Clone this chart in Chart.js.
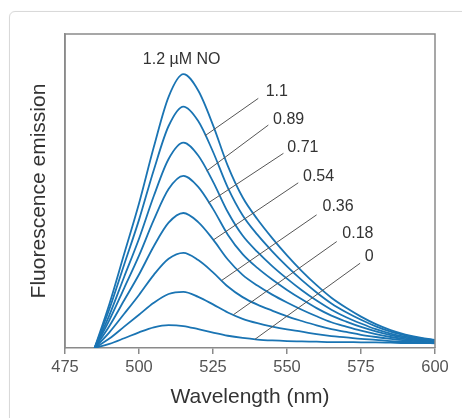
<!DOCTYPE html>
<html>
<head>
<meta charset="utf-8">
<script src="https://cdn.jsdelivr.net/npm/chart.js@4"></script>
<style>
  html, body { margin: 0; padding: 0; background: #fff; overflow: hidden; }
  #card { position: absolute; left: 9px; top: 11px; width: 520px; height: 480px;
          border: 1px solid #d9d9d9; border-radius: 6px; box-shadow: 0 0 1px rgba(0,0,0,0.08); }
  #chart { position: absolute; left: 0; top: 0; }
</style>
</head>
<body>
<div id="card"></div>
<canvas id="chart" width="462" height="418"></canvas>
<script>
// wavelength (nm) and emission for each NO concentration (µM)
const wavelengths = [485, 490, 495, 500, 505, 510, 515, 520, 525, 530, 535, 540, 545, 550, 555, 560, 565, 570, 575, 580, 585, 590, 595, 600];
const no120 = [0, 14.0, 30.0, 46.0, 64.0, 80.0, 87.2, 82.0, 71.0, 58.0, 48.0, 41.0, 35.0, 29.5, 24.5, 20.0, 16.0, 12.8, 10.0, 7.6, 5.7, 4.3, 3.3, 2.6];
const no110 = [0, 12.4, 26.6, 40.8, 56.7, 70.7, 76.9, 72.3, 62.5, 51.1, 42.3, 36.1, 30.8, 26.0, 21.6, 17.7, 14.2, 11.4, 9.0, 6.9, 5.2, 4.0, 3.1, 2.5];
const no089 = [0, 10.5, 22.7, 34.8, 48.4, 60.2, 65.4, 61.3, 53.0, 43.3, 35.8, 30.6, 26.1, 22.1, 18.4, 15.1, 12.2, 9.8, 7.8, 6.0, 4.6, 3.6, 2.8, 2.3];
const no071 = [0, 8.9, 19.1, 29.4, 40.8, 50.6, 54.8, 51.3, 44.3, 36.1, 29.9, 25.5, 21.8, 18.5, 15.5, 12.7, 10.3, 8.4, 6.7, 5.3, 4.1, 3.2, 2.6, 2.2];
const no054 = [0, 7.0, 15.2, 23.4, 32.4, 39.9, 43.0, 40.1, 34.6, 28.2, 23.3, 19.9, 17.0, 14.5, 12.2, 10.1, 8.2, 6.8, 5.5, 4.4, 3.5, 2.8, 2.4, 2.0];
const no036 = [0, 5.0, 10.9, 16.9, 23.3, 28.4, 30.3, 28.0, 24.1, 19.6, 16.2, 13.8, 11.9, 10.1, 8.6, 7.2, 6.0, 5.1, 4.2, 3.5, 2.9, 2.4, 2.1, 1.8];
const no018 = [0, 3.0, 6.8, 10.6, 14.4, 17.2, 17.9, 16.3, 13.9, 11.3, 9.3, 7.9, 6.8, 5.9, 5.2, 4.4, 3.8, 3.4, 2.9, 2.6, 2.2, 2.0, 1.8, 1.7];
const no000 = [0, 1.3, 3.1, 5.0, 6.6, 7.3, 7.0, 6.0, 4.9, 3.9, 3.2, 2.7, 2.4, 2.2, 2.1, 2.0, 1.9, 1.9, 1.8, 1.8, 1.7, 1.6, 1.6, 1.5];
const xTicks = [475, 500, 525, 550, 575, 600];

// curve labels and leader lines (data coordinates)
const topLabel = '1.2 µM NO';
const topLabelAt = [514.4, 91.7];
const curveLabels = ['1.1', '0.89', '0.71', '0.54', '0.36', '0.18', '0'];
const labelX = [542.8, 545.3, 550.1, 555.4, 562.0, 568.7, 576.3];
const labelY = [81.6, 72.9, 63.8, 54.6, 45.0, 36.5, 29.1];
const leaderFromX = [522.3, 522.9, 523.4, 525.1, 527.9, 531.9, 539.2];
const leaderFromY = [67.6, 56.4, 46.2, 34.4, 21.5, 10.6, 2.8];
const leaderToX = [540.3, 543.7, 548.8, 553.8, 560.0, 566.8, 574.7];
const leaderToY = [79.5, 71.0, 62.0, 52.6, 42.4, 33.9, 27.0];

const series = [no120, no110, no089, no071, no054, no036, no018, no000];
const BLUE = '#1a74b3';
const FONT = "'Liberation Sans', Arial, sans-serif";

const labelsPlugin = {
    id: 'curveLabels',
    afterDatasetsDraw(chart) {
        const { ctx, scales: { x, y }, chartArea: a } = chart;
        ctx.save();
        ctx.strokeStyle = '#555';
        ctx.lineWidth = 1;
        curveLabels.forEach((t, i) => {
            ctx.beginPath();
            ctx.moveTo(x.getPixelForValue(leaderFromX[i]), y.getPixelForValue(leaderFromY[i]));
            ctx.lineTo(x.getPixelForValue(leaderToX[i]), y.getPixelForValue(leaderToY[i]));
            ctx.stroke();
        });
        ctx.fillStyle = '#333';
        ctx.font = `16px ${FONT}`;
        ctx.textBaseline = 'middle';
        ctx.textAlign = 'left';
        curveLabels.forEach((t, i) => {
            ctx.fillText(t, x.getPixelForValue(labelX[i]), y.getPixelForValue(labelY[i]));
        });
        ctx.textAlign = 'center';
        ctx.fillText(topLabel, x.getPixelForValue(topLabelAt[0]), y.getPixelForValue(topLabelAt[1]));
        // frame
        ctx.strokeStyle = '#8a8a8a';
        ctx.lineWidth = 1.5;
        ctx.beginPath();
        ctx.moveTo(a.left, a.bottom);
        ctx.lineTo(a.left, a.top);
        ctx.lineTo(a.right, a.top);
        ctx.lineTo(a.right, a.bottom);
        ctx.stroke();
        ctx.restore();
    }
};

new Chart(document.getElementById('chart'), {
    type: 'line',
    data: {
        datasets: series.map(s => ({
            data: wavelengths.map((w, i) => ({ x: w, y: s[i] })),
            borderColor: BLUE,
            borderWidth: 1.8,
            pointRadius: 0,
            fill: false,
            cubicInterpolationMode: 'monotone',
        })),
    },
    options: {
        responsive: false,
        animation: false,
        devicePixelRatio: 1,
        layout: { padding: { top: 34, right: 27, left: 0, bottom: 0 } },
        plugins: { legend: { display: false }, tooltip: { enabled: false } },
        scales: {
            x: {
                type: 'linear', min: 475, max: 600,
                afterBuildTicks: s => { s.ticks = xTicks.map(v => ({ value: v })); },
                afterFit: s => { s.height = 70; },
                ticks: { color: '#555', padding: 4, font: { family: FONT, size: 16.5 } },
                grid: { drawOnChartArea: false, tickLength: 6, color: '#8a8a8a', lineWidth: 1.5 },
                border: { color: '#8a8a8a', width: 1.5 },
                title: { display: true, text: 'Wavelength (nm)', color: '#333',
                         font: { family: FONT, size: 21 }, padding: { top: 0, bottom: 8 } },
            },
            y: {
                min: 0, max: 100,
                afterFit: s => { s.width = 65; },
                ticks: { display: false },
                grid: { display: false },
                border: { color: '#8a8a8a', width: 1.5 },
                title: { display: true, text: 'Fluorescence emission', color: '#333',
                         font: { family: FONT, size: 21 }, padding: { top: 27, bottom: 0 } },
            },
        },
    },
    plugins: [labelsPlugin],
});
</script>
</body>
</html>
